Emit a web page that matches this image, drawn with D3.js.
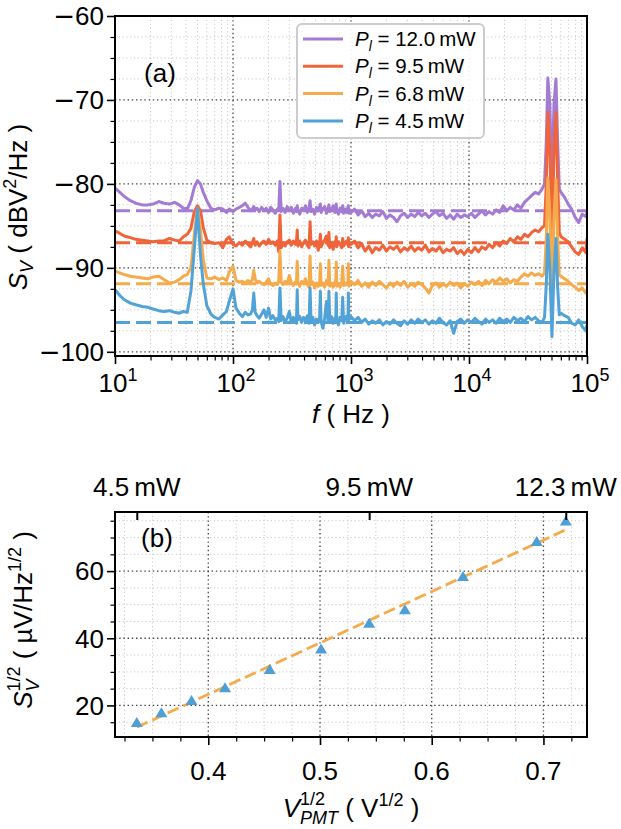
<!DOCTYPE html>
<html><head><meta charset="utf-8">
<script src="https://cdn.jsdelivr.net/npm/d3@7"></script>
<style>
body{margin:0;background:#fff}
svg text{font-family:"Liberation Sans",Arial,Helvetica,sans-serif;fill:#000}
</style>
</head><body>
<svg id="c" width="621" height="829"></svg>
<script>
// ---------------- DATA ----------------
const freqHz = [
 10, 11, 12, 13.5, 15, 17, 19, 21, 23.5, 26, 29, 32, 35, 38, 41, 44, 47, 50, 53, 56, 60, 65, 70, 76, 82, 88, 93, 100,
 106, 113, 120, 127, 134, 141, 146, 150, 154, 160, 167, 175, 183, 191, 200, 209, 218, 228, 238, 244,
 250, 256, 265, 276, 288, 300, 312, 325, 338, 345, 350, 355, 368, 382, 396, 411, 426, 441, 450, 458,
 475, 492, 510, 528, 542, 550, 558, 578, 598, 620, 640, 650, 660, 683, 706, 730, 742, 750, 758, 783,
 808, 834, 850, 866, 893, 920, 942, 950, 958, 980,
 1000, 1072, 1148, 1230, 1318, 1413, 1514, 1622, 1738, 1862, 1995, 2138, 2291, 2455, 2630, 2818, 3020, 3236, 3467, 3715,
 3981, 4266, 4571, 4898, 5248, 5623, 6026, 6457, 6918, 7413, 7943, 8511, 9120, 9772, 10471, 11220, 12023, 12882, 13804, 14791,
 15849, 16982, 18197, 19498, 20893, 22387, 23988, 25704, 27542, 29512, 31623, 33884, 36308, 38905, 41687,
 43652, 45186, 46559, 48417, 50466, 52481, 54576, 56234, 58210, 60256, 64565, 69183, 74131, 79433, 85114, 91201, 97724, 100000
];
const sPurple = [
 -80.5,-81.0,-81.5,-82.0,-82.3,-82.5,-82.5,-82.4,-82.1,-82.3,-82.4,-82.2,-82.5,-82.9,-83.0,-82.0,-80.4,-79.6,-80.0,-81.0,-82.0,-82.9,-83.1,-82.9,-83.0,-83.4,-83.0,-83.3,
 -83.0,-82.8,-82.6,-82.3,-82.8,-83.2,-83.0,-82.7,-83.1,-82.9,-83.3,-82.8,-83.2,-82.9,-83.4,-82.8,-83.1,-83.5,-83.0,-83.2,
 -79.7,-83.3,-82.9,-83.4,-82.7,-83.2,-82.8,-83.5,-82.9,-83.3,-82.6,-83.1,-83.6,-82.9,-83.2,-82.6,-83.4,-82.9,-82.0,-83.3,
 -83.0,-83.6,-82.8,-83.2,-82.7,-82.4,-83.4,-83.0,-82.7,-83.5,-82.9,-82.5,-83.3,-83.1,-82.6,-83.4,-82.8,-82.4,-83.2,-83.6,
 -82.9,-83.3,-82.6,-83.5,-83.0,-83.4,-82.8,-82.6,-83.5,-83.1,
 -83.4,-83.0,-83.7,-83.2,-83.9,-83.5,-84.0,-83.6,-83.8,-83.3,-84.1,-83.7,-84.0,-84.5,-83.8,-83.5,-84.0,-83.6,-83.9,-83.4,
 -83.8,-83.5,-84.0,-83.6,-83.3,-83.8,-83.5,-84.1,-83.7,-84.2,-83.6,-84.0,-83.7,-83.9,-83.5,-84.0,-83.6,-83.2,-83.7,-83.3,
 -83.6,-83.1,-83.4,-82.6,-83.2,-82.8,-83.1,-82.5,-82.9,-82.2,-81.8,-81.4,-81.0,-81.2,-80.6,
 -80.0,-75.0,-67.4,-70.5,-80.5,-70.5,-67.5,-74.5,-80.6,-81.0,-81.6,-82.4,-83.0,-84.0,-84.6,-83.6,-83.9,-83.4
];
const sRed = [
 -85.6,-85.9,-86.2,-86.4,-86.6,-86.7,-86.8,-86.9,-86.8,-86.8,-86.5,-86.7,-86.8,-86.3,-86.0,-85.3,-83.3,-82.6,-83.2,-85.2,-86.7,-87.0,-87.1,-87.0,-87.6,-86.6,-86.3,-87.2,
 -87.4,-87.0,-87.3,-86.8,-87.2,-87.5,-87.0,-86.5,-87.3,-86.9,-87.4,-87.0,-86.8,-87.2,-86.6,-87.1,-86.9,-87.3,-86.8,-88.1,
 -83.7,-87.6,-87.0,-87.4,-86.9,-86.7,-87.3,-86.8,-87.2,-86.9,-85.5,-87.4,-86.8,-87.5,-87.0,-86.7,-87.3,-87.6,-84.5,-87.2,
 -86.9,-87.4,-86.8,-87.9,-87.1,-86.0,-87.5,-87.0,-86.7,-86.2,-87.3,-85.8,-87.6,-87.0,-87.8,-86.9,-87.3,-86.3,-87.5,-86.9,
 -87.2,-87.6,-86.5,-87.4,-87.0,-86.8,-87.3,-86.4,-87.5,-87.1,
 -87.2,-86.8,-87.6,-87.1,-88.0,-87.4,-88.2,-87.6,-87.9,-87.3,-88.0,-87.5,-87.8,-87.4,-88.1,-87.6,-87.9,-87.4,-88.0,-87.6,
 -87.9,-87.3,-88.1,-87.7,-88.0,-87.5,-88.2,-87.8,-88.0,-87.6,-88.3,-87.9,-88.4,-87.8,-88.2,-87.6,-88.1,-87.5,-87.8,-87.2,
 -87.6,-87.0,-87.4,-86.8,-87.1,-86.5,-86.9,-86.3,-86.6,-86.0,-86.3,-85.8,-85.5,-85.7,-85.2,
 -85.0,-80.0,-71.5,-75.5,-88.5,-76.0,-71.5,-79.0,-85.8,-86.3,-86.6,-86.9,-87.5,-88.1,-88.4,-87.6,-88.2,-86.5
];
const sOrange = [
 -90.4,-90.6,-90.8,-91.0,-91.1,-91.2,-91.3,-91.1,-91.0,-91.4,-91.8,-91.7,-91.4,-91.0,-90.8,-90.0,-86.0,-82.9,-85.5,-89.0,-91.2,-91.3,-91.1,-91.4,-91.2,-91.5,-90.5,-89.8,
 -91.5,-91.7,-91.6,-91.8,-91.5,-91.7,-91.4,-90.3,-91.3,-91.8,-91.6,-91.9,-92.0,-91.7,-91.3,-91.9,-92.1,-91.8,-92.0,-91.6,
 -88.0,-91.7,-92.0,-91.6,-91.9,-90.9,-91.8,-92.1,-91.7,-91.9,-89.2,-91.8,-92.2,-91.6,-91.9,-91.3,-92.0,-92.3,-88.6,-92.0,
 -91.7,-92.4,-91.8,-92.2,-91.9,-89.5,-92.1,-91.8,-92.3,-91.5,-92.0,-89.1,-92.2,-91.8,-92.3,-91.7,-92.0,-89.3,-92.2,-91.9,
 -92.3,-91.7,-89.8,-92.1,-91.8,-92.0,-91.6,-89.5,-92.2,-91.8,
 -91.6,-92.0,-91.5,-92.2,-91.8,-92.3,-91.7,-92.1,-91.6,-92.0,-92.4,-91.8,-92.2,-91.7,-92.1,-91.6,-92.3,-91.9,-92.2,-91.7,
 -92.0,-92.4,-93.0,-92.1,-91.8,-92.3,-91.9,-92.2,-91.7,-92.1,-91.8,-92.4,-91.9,-92.2,-91.7,-92.0,-91.6,-92.1,-91.5,-91.9,
 -91.4,-91.7,-91.2,-91.6,-91.3,-91.8,-91.4,-91.6,-91.1,-90.7,-91.0,-90.6,-90.9,-90.7,-91.0,
 -90.6,-86.5,-79.3,-83.5,-93.5,-84.0,-79.5,-86.0,-90.9,-91.0,-91.3,-91.6,-92.0,-92.3,-92.7,-92.4,-93.0,-92.6
];
const sBlue = [
 -92.6,-93.3,-93.8,-94.2,-94.4,-94.6,-94.7,-94.9,-95.1,-95.2,-95.1,-95.3,-95.4,-95.2,-95.3,-92.8,-87.7,-82.9,-88.5,-91.9,-94.5,-95.5,-95.9,-96.1,-95.6,-95.2,-94.0,-92.5,
 -94.8,-95.4,-95.8,-95.3,-95.6,-95.5,-95.0,-93.0,-95.3,-95.7,-96.0,-95.5,-95.0,-95.9,-94.8,-96.1,-95.7,-96.2,-96.0,-96.4,
 -92.4,-96.3,-95.8,-96.4,-96.0,-95.2,-96.5,-95.9,-96.3,-96.6,-92.6,-96.2,-95.8,-96.5,-95.9,-96.3,-95.7,-96.6,-92.4,-96.2,
 -95.9,-96.8,-96.1,-96.5,-96.0,-92.8,-96.4,-97.2,-96.0,-94.0,-96.5,-92.8,-96.2,-95.8,-96.6,-96.0,-96.4,-93.0,-96.1,-96.8,
 -95.9,-96.3,-93.5,-96.6,-96.0,-95.7,-96.4,-93.0,-96.2,-95.9,
 -95.8,-96.3,-95.9,-96.5,-96.1,-96.7,-96.3,-96.6,-96.2,-96.8,-96.4,-96.7,-96.2,-96.6,-96.9,-96.3,-96.7,-96.2,-96.6,-96.1,
 -96.5,-96.2,-96.7,-96.3,-96.6,-96.0,-96.5,-96.8,-96.3,-97.8,-96.4,-96.1,-96.6,-96.2,-96.5,-96.0,-96.4,-96.7,-96.1,-96.5,
 -96.2,-96.6,-96.0,-96.4,-96.1,-96.5,-95.9,-96.3,-96.0,-96.4,-95.8,-96.2,-95.9,-96.3,-96.5,
 -95.9,-92.0,-86.0,-90.0,-98.2,-90.5,-86.5,-92.0,-95.6,-95.4,-95.7,-95.9,-96.6,-96.8,-96.2,-97.0,-97.5,-96.8
];
const powerLabels = ["12.0", "9.5", "6.8", "4.5"];
const noiseLevels = [-83.2, -87.0, -91.9, -96.5];
const seriesColors = ["#a47bd2", "#f0643a", "#f5ab4c", "#51a2d6"];

const yTicksA = [-100, -90, -80, -70, -60];
const xTicksA = [1e1, 1e2, 1e3, 1e4, 1e5];
const xTickExpA = ["1", "2", "3", "4", "5"];

const vPmtHalf = [0.336, 0.358, 0.385, 0.415, 0.455, 0.501, 0.544, 0.576, 0.628, 0.694, 0.720];
const sNoiseHalf = [14.9, 17.8, 21.5, 25.3, 30.7, 36.8, 44.5, 48.5, 58.4, 68.8, 74.9];
const fitX = [0.336, 0.722];
const fitY = [13.5, 72.6];
const xTicksB = [0.4, 0.5, 0.6, 0.7];
const yTicksB = [20, 40, 60];
const topTickX = [0.336, 0.544, 0.720];
const topTickLabels = ["4.5", "9.5", "12.3"];

// ---------------- DRAW ----------------
const FS = 26, SUP = 18;
const svg = d3.select("#c");
const A = {l:115, r:587, t:16, b:356};
const B = {l:115, r:587, t:512, b:737};
const xA = d3.scaleLog().domain([10, 1e5]).range([A.l, A.r]);
const yA = d3.scaleLinear().domain([-100.5, -60]).range([A.b, A.t]);
const xB = d3.scaleLinear().domain([0.3165, 0.739]).range([B.l, B.r]);
const yB = d3.scaleLinear().domain([10.6, 77.6]).range([B.b, B.t]);

function rich(parent, segs, x, y, anchor, rot) {
  const g = parent.append("g");
  const inner = g.append("g");
  let cx = 0, prevStart = 0;
  segs.forEach(s => {
    const start = s.stack ? prevStart : cx + (s.dx || 0);
    const t = inner.append("text").attr("x", start).attr("y", s.by || 0)
      .attr("font-size", s.s || FS).attr("font-style", s.it ? "italic" : "normal").text(s.t);
    if (s.ff) t.style("font-family", s.ff);
    const w = t.node().getComputedTextLength();
    cx = Math.max(cx, start + w); prevStart = start;
  });
  const off = anchor === "middle" ? -cx / 2 : anchor === "end" ? -cx : 0;
  inner.attr("transform", `translate(${off},0)`);
  g.attr("transform", `translate(${x},${y}) rotate(${rot || 0})`);
  return g;
}

function grid(g, x, y, P, xv, yv, color, dash, w) {
  g.selectAll(null).data(xv).enter().append("line")
    .attr("x1", d => x(d)).attr("x2", d => x(d)).attr("y1", P.t).attr("y2", P.b)
    .attr("stroke", color).attr("stroke-width", w).attr("stroke-dasharray", dash);
  g.selectAll(null).data(yv).enter().append("line")
    .attr("y1", d => y(d)).attr("y2", d => y(d)).attr("x1", P.l).attr("x2", P.r)
    .attr("stroke", color).attr("stroke-width", w).attr("stroke-dasharray", dash);
}
function styleAxis(g, w) {
  g.select(".domain").remove();
  g.selectAll(".tick line").attr("stroke", "#000").attr("stroke-width", w);
  g.selectAll(".tick text").remove();
}

// ---- Panel A ----
const gA = svg.append("g");
const minorXA = [];
[10, 100, 1000, 10000].forEach(d => { for (let k = 2; k <= 9; k++) minorXA.push(d * k); });
const minorYA = d3.range(-100, -59, 2.5).filter(v => v % 10 !== 0);
grid(gA, xA, yA, A, minorXA, minorYA, "#c8c8c8", "1.2,2.6", 1);
grid(gA, xA, yA, A, xTicksA, yTicksA, "#444", "1.4,2.8", 1.3);

svg.append("clipPath").attr("id", "clipA").append("rect")
  .attr("x", A.l).attr("y", A.t).attr("width", A.r - A.l).attr("height", A.b - A.t);
const curves = [sPurple, sRed, sOrange, sBlue];
const line = d3.line().x(d => xA(d[0])).y(d => yA(d[1]));
const gc = gA.append("g").attr("clip-path", "url(#clipA)");
curves.forEach((s, i) => {
  const pts = freqHz.map((f, j) => [f, s[j]]).filter(p => p[1] !== undefined);
  gc.append("path").attr("d", line(pts)).attr("fill", "none")
    .attr("stroke", seriesColors[i]).attr("stroke-width", 3).attr("stroke-linejoin", "round");
  gc.append("line").attr("x1", xA(10)).attr("x2", xA(1e5))
    .attr("y1", yA(noiseLevels[i])).attr("y2", yA(noiseLevels[i]))
    .attr("stroke", seriesColors[i]).attr("stroke-width", 3).attr("stroke-dasharray", "15,6");
});

// axes A
gA.append("g").attr("transform", `translate(0,${A.b})`)
  .call(d3.axisBottom(xA).tickValues(xTicksA).tickSize(8)).call(g => styleAxis(g, 1.6));
gA.append("g").attr("transform", `translate(0,${A.b})`)
  .call(d3.axisBottom(xA).tickValues(minorXA).tickSize(4.5)).call(g => styleAxis(g, 1.2));
gA.append("g").attr("transform", `translate(${A.l},0)`)
  .call(d3.axisLeft(yA).tickValues(yTicksA).tickSize(8)).call(g => styleAxis(g, 1.6));
gA.append("g").attr("transform", `translate(${A.l},0)`)
  .call(d3.axisLeft(yA).tickValues(minorYA).tickSize(4.5)).call(g => styleAxis(g, 1.2));
gA.append("rect").attr("x", A.l).attr("y", A.t).attr("width", A.r - A.l).attr("height", A.b - A.t)
  .attr("fill", "none").attr("stroke", "#000").attr("stroke-width", 2);

yTicksA.forEach(v => {
  rich(gA, [{t: "\u2212", ff: "DejaVu Sans"}, {t: String(Math.abs(v))}], A.l - 11, yA(v) + 9.3, "end");
});
xTicksA.forEach((v, i) => {
  rich(gA, [{t: "10"}, {t: xTickExpA[i], s: SUP, by: -11}], xA(v) + 3, 392, "middle");
});
rich(gA, [{t: "f", it: true}, {t: "\u00a0(\u00a0Hz\u00a0)"}], (A.l + A.r) / 2, 423, "middle");
rich(gA, [{t: "S", it: true}, {t: "V", it: true, s: SUP, by: 6}, {t: "\u00a0(\u00a0dBV"}, {t: "2", s: SUP, by: -11}, {t: "/Hz\u00a0)"}],
  27, 207, "middle", -90);
rich(gA, [{t: "(a)"}], 160, 82, "middle");

// legend
const LG = {x: 297, y: 24, w: 187, h: 114};
gA.append("rect").attr("x", LG.x).attr("y", LG.y).attr("width", LG.w).attr("height", LG.h)
  .attr("rx", 5).attr("fill", "#fff").attr("fill-opacity", 0.92).attr("stroke", "#cccccc").attr("stroke-width", 2);
powerLabels.forEach((p, i) => {
  const yy = 39 + i * 27.3;
  gA.append("line").attr("x1", 303).attr("x2", 343).attr("y1", yy).attr("y2", yy)
    .attr("stroke", seriesColors[i]).attr("stroke-width", 3);
  rich(gA, [{t: "P", it: true, s: 20.5}, {t: "l", it: true, s: 14, by: 5}, {t: "\u00a0=\u00a0" + p + "\u2009mW", s: 20.5}], 355, yy + 7, "start");
});

// ---- Panel B ----
const gB = svg.append("g");
const minorXB = d3.range(0.325, 0.73, 0.025).filter(v => Math.abs(v * 10 - Math.round(v * 10)) > 1e-6);
const minorYB = d3.range(15, 77, 5).filter(v => v % 20 !== 0);
grid(gB, xB, yB, B, minorXB, minorYB, "#c8c8c8", "1.2,2.6", 1);
grid(gB, xB, yB, B, xTicksB, yTicksB, "#444", "1.4,2.8", 1.3);

gB.append("path").attr("d", d3.line().x(d => xB(d[0])).y(d => yB(d[1]))(fitX.map((v, i) => [v, fitY[i]])))
  .attr("fill", "none").attr("stroke", "#f5ab4c").attr("stroke-width", 2.8).attr("stroke-dasharray", "12,5");
const tri = "M0,-5.5L6,4.5L-6,4.5Z";
gB.selectAll(null).data(vPmtHalf.map((v, i) => [v, sNoiseHalf[i]])).enter().append("path")
  .attr("d", tri).attr("transform", d => `translate(${xB(d[0])},${yB(d[1])})`)
  .attr("fill", "#4d9fd6");

gB.append("g").attr("transform", `translate(0,${B.b})`)
  .call(d3.axisBottom(xB).tickValues(xTicksB).tickSize(8)).call(g => styleAxis(g, 1.6));
gB.append("g").attr("transform", `translate(0,${B.b})`)
  .call(d3.axisBottom(xB).tickValues(minorXB).tickSize(4.5)).call(g => styleAxis(g, 1.2));
gB.append("g").attr("transform", `translate(${B.l},0)`)
  .call(d3.axisLeft(yB).tickValues(yTicksB).tickSize(8)).call(g => styleAxis(g, 1.6));
gB.append("g").attr("transform", `translate(${B.l},0)`)
  .call(d3.axisLeft(yB).tickValues(minorYB).tickSize(4.5)).call(g => styleAxis(g, 1.2));
gB.append("g").attr("transform", `translate(0,${B.t})`)
  .call(d3.axisBottom(xB).tickValues(topTickX).tickSize(8)).call(g => styleAxis(g, 2));
gB.append("rect").attr("x", B.l).attr("y", B.t).attr("width", B.r - B.l).attr("height", B.b - B.t)
  .attr("fill", "none").attr("stroke", "#000").attr("stroke-width", 2);

yTicksB.forEach(v => {
  gB.append("text").attr("x", B.l - 11).attr("y", yB(v)).attr("dy", "0.36em")
    .attr("text-anchor", "end").attr("font-size", FS).text(v);
});
xTicksB.forEach(v => {
  gB.append("text").attr("x", xB(v)).attr("y", 780).attr("text-anchor", "middle")
    .attr("font-size", FS).text(v.toFixed(1));
});
topTickX.forEach((v, i) => {
  gB.append("text").attr("x", xB(v)).attr("y", 496).attr("text-anchor", "middle")
    .attr("font-size", FS).text(topTickLabels[i] + "\u2009mW");
});
rich(gB, [{t: "V", it: true}, {t: "1/2", s: SUP, by: -12}, {t: "PMT", it: true, s: SUP, by: 7, stack: true},
  {t: "\u00a0(\u00a0V"}, {t: "1/2", s: SUP, by: -11}, {t: "\u00a0)"}], (B.l + B.r) / 2, 817, "middle");
rich(gB, [{t: "S", it: true}, {t: "1/2", s: SUP, by: -12}, {t: "V", it: true, s: SUP, by: 7, stack: true},
  {t: "\u00a0(\u00a0\u00b5V/Hz"}, {t: "1/2", s: SUP, by: -11}, {t: "\u00a0)"}], 32, 620, "middle", -90);
rich(gB, [{t: "(b)"}], 157, 547, "middle");
</script>
</body></html>
